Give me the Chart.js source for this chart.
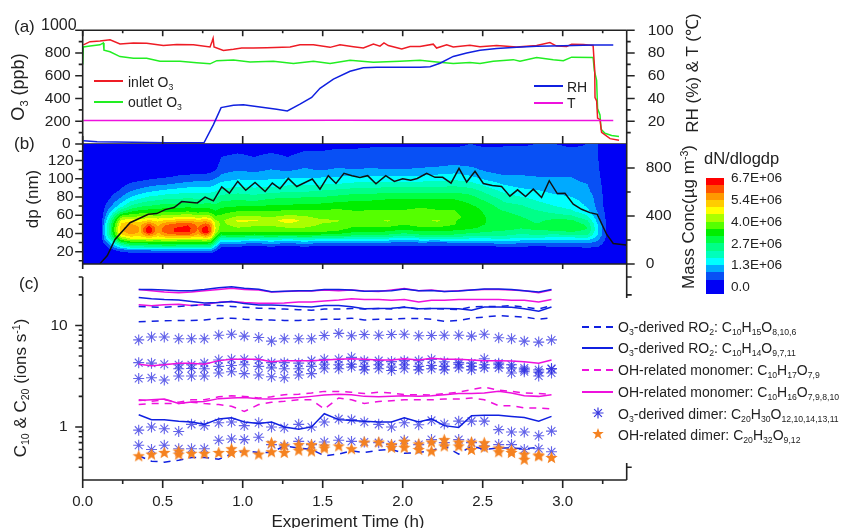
<!DOCTYPE html>
<html>
<head>
<meta charset="utf-8">
<title>Experiment time series</title>
<script src="https://cdn.jsdelivr.net/npm/chart.js@4/dist/chart.umd.min.js"></script>
<style>
  html, body { margin: 0; padding: 0; background: #fff; }
  #fig { position: relative; width: 841px; height: 528px; overflow: hidden; font-family: "Liberation Sans", Arial, sans-serif; color: #222; filter: blur(0.3px); }
  #fig canvas { position: absolute; left: 0; top: 0; }
  .t { position: absolute; white-space: nowrap; line-height: 1; transform: translateY(-50%); }
  .rot { position: absolute; white-space: nowrap; line-height: 1; transform: translate(-50%, -50%) rotate(-90deg); }
  .c { position: absolute; white-space: nowrap; line-height: 1; transform: translate(-50%, -50%); }
  sub { font-size: 0.62em; vertical-align: -0.32em; line-height: 0; }
  sup { font-size: 0.62em; vertical-align: 0.55em; line-height: 0; }
  .ln { position: absolute; height: 0; border-top: 2px solid; }
  .dash { position: absolute; height: 2px; }
  #bar { position: absolute; left: 706px; top: 178px; width: 18px; height: 116px; display: flex; flex-direction: column; }
  #bar div { flex: 1; }
</style>
</head>
<body>
<div id="fig">
  <canvas id="panelA" width="841" height="528"></canvas>
  <canvas id="panelB" width="841" height="528"></canvas>
  <canvas id="panelC" width="841" height="528"></canvas>

  <span class="t" style="left:14px;top:26px;font-size:17px">(a)</span>
  <span class="t" style="left:14px;top:143px;font-size:17px">(b)</span>
  <span class="t" style="left:19px;top:283px;font-size:17px">(c)</span>
  <span class="t" style="left:41px;top:25px;font-size:16px">1000</span>

  <span class="rot" style="left:18px;top:87px;font-size:18px">O<sub>3</sub> (ppb)</span>
  <span class="rot" style="left:32px;top:199px;font-size:17px">dp (nm)</span>
  <span class="rot" style="left:692px;top:73px;font-size:17px">RH (%) &amp; T (℃)</span>
  <span class="rot" style="left:688px;top:217px;font-size:17px">Mass Conc(µg m<sup>-3</sup>)</span>
  <span class="rot" style="left:20px;top:388px;font-size:17px">C<sub>10</sub> &amp; C<sub>20</sub> (ions s<sup>-1</sup>)</span>
  <span class="c" style="left:348px;top:521px;font-size:17px">Experiment Time (h)</span>

  <div class="ln" style="left:94px;top:80px;width:29px;border-color:#ee1c25"></div>
  <span class="t" style="left:128px;top:82px;font-size:14px">inlet O<sub>3</sub></span>
  <div class="ln" style="left:94px;top:101px;width:29px;border-color:#22ee22"></div>
  <span class="t" style="left:128px;top:102px;font-size:14px">outlet O<sub>3</sub></span>
  <div class="ln" style="left:534px;top:85px;width:29px;border-color:#1020e0"></div>
  <span class="t" style="left:567px;top:87px;font-size:14px">RH</span>
  <div class="ln" style="left:534px;top:102px;width:29px;border-color:#ee11dd"></div>
  <span class="t" style="left:567px;top:103px;font-size:14px">T</span>

  <span class="t" style="left:704px;top:158px;font-size:16.5px">dN/dlogdp</span>
  <div id="bar"></div>
  <span class="t" style="left:731px;top:178px;font-size:13.6px">6.7E+06</span>
  <span class="t" style="left:731px;top:200px;font-size:13.6px">5.4E+06</span>
  <span class="t" style="left:731px;top:222px;font-size:13.6px">4.0E+06</span>
  <span class="t" style="left:731px;top:244px;font-size:13.6px">2.7E+06</span>
  <span class="t" style="left:731px;top:265px;font-size:13.6px">1.3E+06</span>
  <span class="t" style="left:731px;top:287px;font-size:13.6px">0.0</span>

  <div class="dash" style="left:582px;top:326px;width:31px;background:repeating-linear-gradient(90deg,#1020e0 0 7px,transparent 7px 12px)"></div>
  <span class="t" style="left:618px;top:327px;font-size:14px">O<sub>3</sub>-derived RO<sub>2</sub>: C<sub>10</sub>H<sub>15</sub>O<sub>8,10,6</sub></span>
  <div class="ln" style="left:582px;top:347px;width:31px;border-color:#1020e0"></div>
  <span class="t" style="left:618px;top:348px;font-size:14px">O<sub>3</sub>-derived RO<sub>2</sub>: C<sub>10</sub>H<sub>14</sub>O<sub>9,7,11</sub></span>
  <div class="dash" style="left:582px;top:369px;width:31px;background:repeating-linear-gradient(90deg,#ee11dd 0 7px,transparent 7px 12px)"></div>
  <span class="t" style="left:618px;top:370px;font-size:14px">OH-related monomer: C<sub>10</sub>H<sub>17</sub>O<sub>7,9</sub></span>
  <div class="ln" style="left:582px;top:391px;width:31px;border-color:#ee11dd"></div>
  <span class="t" style="left:618px;top:392px;font-size:14px">OH-related monomer: C<sub>10</sub>H<sub>16</sub>O<sub>7,9,8,10</sub></span>
  <svg style="position:absolute;left:591px;top:406px" width="14" height="14" viewBox="-7 -7 14 14">
    <path d="M-5.5 0H5.5M0-5.5V5.5M-3.9-3.9L3.9 3.9M-3.9 3.9L3.9-3.9" stroke="#3a3ae0" stroke-width="1.2"/>
  </svg>
  <span class="t" style="left:618px;top:414px;font-size:14px">O<sub>3</sub>-derived dimer: C<sub>20</sub>H<sub>30</sub>O<sub>12,10,14,13,11</sub></span>
  <svg style="position:absolute;left:592px;top:428px" width="12" height="12" viewBox="-7 -7 14 14">
    <polygon points="0,-7 1.7,-2.2 6.7,-2.2 2.7,0.8 4.1,5.7 0,2.8 -4.1,5.7 -2.7,0.8 -6.7,-2.2 -1.7,-2.2" fill="#f58220"/>
  </svg>
  <span class="t" style="left:618px;top:435px;font-size:14px">OH-related dimer: C<sub>20</sub>H<sub>32</sub>O<sub>9,12</sub></span>
</div>

<script>
'use strict';

// ---- panel (a) ----
const inletTime = [0.004,0.046,0.108,0.171,0.233,0.317,0.4,0.504,0.588,0.692,0.796,0.808,0.815,0.821,0.879,0.942,0.994,1.067,1.15,1.296,1.358,1.442,1.546,1.608,1.692,1.754,1.817,1.858,1.883,1.91,1.994,2.046,2.108,2.191,2.212,2.275,2.316,2.42,2.483,2.587,2.712,2.837,2.92,2.962,3.025,3.056,3.129,3.19,3.2,3.202,3.212,3.218,3.233,3.243,3.296,3.352];
const inletO3 = [872,900,905,916,880,889,886,866,875,872,853,900,930,853,822,833,844,844,847,853,872,872,850,872,855,844,880,861,889,866,836,858,858,878,844,872,853,869,855,866,853,866,892,861,858,878,875,866,650,408,380,228,214,103,47,33];
const outletTime = [0,0.004,0.046,0.108,0.129,0.133,0.171,0.233,0.317,0.4,0.483,0.608,0.712,0.796,0.838,0.942,1.046,1.192,1.317,1.442,1.546,1.671,1.817,1.983,2.108,2.212,2.316,2.42,2.483,2.566,2.691,2.733,2.837,2.941,3.004,3.056,3.19,3.198,3.212,3.218,3.233,3.24,3.264,3.306,3.352];
const outletO3 = [700,853,861,872,889,825,811,769,755,755,728,728,714,705,733,739,722,728,708,728,708,736,719,728,736,722,708,717,708,728,742,728,761,742,733,764,761,644,560,311,255,130,94,75,67];
const rhTime = [0.004,0.09,0.317,0.525,0.758,0.817,0.865,0.942,1.004,1.108,1.212,1.279,1.358,1.431,1.483,1.567,1.671,1.754,1.838,2.108,2.171,2.233,2.316,2.4,2.483,2.587,2.712,2.837,3.004,3.191,3.316];
const rhValues = [2.8,1.9,1.5,1.2,1.0,17,32,34,34.5,32.5,30.5,29,35,41,49,57,64,67,67.5,67.5,68,71,77,80,82.5,84,85,86,86.5,87,87];
const tempTime = [0.004,0.8,1.6,2.4,3.316];
const tempValues = [20.6,20.6,20.8,20.6,20.6];

// ---- panel (b) ----
const massTime = [0.108,0.154,0.202,0.296,0.41,0.463,0.515,0.571,0.619,0.717,0.765,0.817,0.869,0.917,0.969,1.019,1.077,1.14,1.185,1.233,1.285,1.338,1.435,1.483,1.535,1.583,1.633,1.683,1.733,1.781,1.833,1.894,1.948,2.0,2.05,2.091,2.15,2.202,2.25,2.302,2.352,2.4,2.452,2.504,2.56,2.618,2.67,2.718,2.768,2.816,2.868,2.916,2.966,3.014,3.066,3.118,3.17,3.216,3.275,3.316,3.396];
const massConc = [3,70,204,344,414,420,453,470,520,509,557,526,643,590,688,615,680,604,674,627,713,646,708,624,736,671,755,736,722,736,669,736,688,710,699,713,755,722,722,674,797,683,772,671,655,646,565,618,562,624,554,694,587,590,498,456,428,414,246,171,159];

const dpBins = [8,18,22,26,30,34,38,42,46,50,54,58,64,70,78,86,94,102,110,120,130,138];
const timeBins = [0.11,0.137,0.241,0.30,0.36,0.414,0.47,0.518,0.59,0.66,0.72,0.77,0.80,0.83,0.865,0.969,1.073,1.177,1.281,1.385,1.489,1.593,1.697,1.801,1.905,2.009,2.113,2.217,2.321,2.425,2.529,2.633,2.737,2.841,2.945,3.049,3.153,3.22,3.27,3.30];
// dN/dlogdp x 1E+06, one row per time bin, one value per dp bin
const dNdlogdp = [
  [0,0,0,0,0,0,0,0,0,0,0,0,0,0,0,0,0,0,0,0,0,0],
  [0,0,.1,.3,.6,1.0,1.2,1.3,1.3,1.2,1.0,.8,.6,.4,.2,.1,0,0,0,0,0,0],
  [0,.2,.7,1.8,2.8,3.9,4.8,5.2,5.2,5.0,4.6,3.9,2.6,1.6,1.0,.55,.3,.15,0,0,0,0],
  [0,.3,1.0,2.3,3.3,4.4,5.2,5.8,5.8,5.4,4.8,4.1,3.1,2.3,1.5,.9,.5,.2,.05,0,0,0],
  [0,.3,1.0,2.3,3.3,4.4,5.1,5.3,5.3,5.2,4.7,4.1,3.3,2.6,1.8,1.1,.6,.25,.05,0,0,0],
  [0,.3,1.0,2.4,3.4,4.6,5.7,6.7,6.7,5.9,5.0,4.3,3.4,2.7,2.0,1.3,.7,.3,.1,0,0,0],
  [0,.35,1.1,2.4,3.4,4.4,5.1,5.4,5.4,5.2,4.8,4.2,3.4,2.8,2.1,1.4,.8,.35,.1,0,0,0],
  [0,.4,1.2,2.6,3.5,4.6,5.5,6.1,6.1,5.7,5.0,4.3,3.5,2.9,2.2,1.5,.85,.4,.15,0,0,0],
  [0,.4,1.2,2.5,3.4,4.5,5.7,6.3,6.3,6.0,5.2,4.4,3.5,2.9,2.2,1.6,.95,.5,.2,0,0,0],
  [0,.4,1.2,2.5,3.4,4.5,5.8,6.4,6.4,6.2,5.4,4.5,3.6,3.0,2.3,1.7,1.05,.55,.2,.05,0,0],
  [0,.4,1.2,2.5,3.4,4.4,5.2,5.7,5.8,5.6,5.1,4.3,3.4,2.9,2.2,1.7,1.1,.6,.25,.05,0,0],
  [0,.4,1.2,2.5,3.4,4.6,5.8,6.8,6.6,6.0,5.3,4.4,3.5,2.9,2.3,1.7,1.1,.6,.25,.05,0,0],
  [0,.4,1.1,2.4,3.3,4.3,5.3,5.8,5.9,5.6,5.0,4.2,3.4,2.9,2.3,1.7,1.15,.65,.3,.1,0,0],
  [0,.2,.6,1.4,2.3,3.1,3.9,4.3,4.5,4.4,4.1,3.7,3.2,2.8,2.3,1.8,1.3,.8,.4,.2,.05,0],
  [0,0,.15,.5,1.1,2.0,3.0,3.6,3.8,3.9,3.9,3.7,3.4,3.0,2.5,2.0,1.5,1.0,.7,.5,.35,.2],
  [0,0,.15,.5,1.1,2.0,3.1,3.7,4.0,4.25,4.55,4.1,3.6,3.1,2.6,2.1,1.6,1.2,.85,.6,.4,.25],
  [0,0,.1,.4,1.0,1.9,3.0,3.6,3.9,4.15,4.55,4.1,3.6,3.1,2.5,2.0,1.6,1.15,.75,.5,.35,.2],
  [0,0,.15,.5,1.1,2.0,3.1,3.6,3.9,4.1,4.2,4.0,3.6,3.2,2.7,2.1,1.6,1.2,.9,.65,.4,.25],
  [0,0,.1,.4,1.0,1.9,3.0,3.7,4.0,4.3,4.85,4.2,3.7,3.2,2.7,2.2,1.7,1.25,.8,.5,.35,.25],
  [0,0,.15,.5,1.1,2.0,3.1,3.7,4.0,4.2,4.3,4.1,3.7,3.3,2.8,2.2,1.7,1.3,.95,.65,.45,.25],
  [0,0,.1,.4,1.0,1.9,3.0,3.6,3.9,4.0,4.1,3.9,3.7,3.3,2.8,2.3,1.75,1.3,.85,.55,.45,.3],
  [0,0,.1,.45,1.0,1.9,2.9,3.5,3.8,3.95,4.05,3.9,3.7,3.4,2.9,2.4,1.8,1.35,.95,.65,.5,.35],
  [0,0,.1,.4,.9,1.8,2.7,3.2,3.5,3.7,3.7,3.7,3.6,3.4,3.0,2.5,1.9,1.4,.9,.6,.5,.35],
  [0,0,.1,.45,1.0,1.8,2.7,3.2,3.5,3.7,3.8,3.7,3.6,3.5,3.0,2.5,1.9,1.4,.95,.65,.5,.4],
  [0,0,.05,.4,.9,1.7,2.6,3.1,3.5,3.8,4.1,3.8,3.6,3.5,3.1,2.6,2.0,1.4,.9,.6,.5,.4],
  [0,0,.05,.4,.8,1.6,2.4,2.9,3.3,3.6,3.7,3.7,3.6,3.5,3.1,2.6,2.0,1.4,.9,.65,.5,.4],
  [0,0,.1,.45,.9,1.7,2.6,3.1,3.5,3.8,3.9,3.8,3.7,3.5,3.1,2.6,2.0,1.4,.95,.65,.5,.4],
  [0,0,.1,.4,.85,1.7,2.6,3.1,3.5,3.8,4.1,3.8,3.6,3.5,3.1,2.6,2.0,1.5,1.0,.65,.5,.4],
  [0,0,.1,.4,.9,1.8,2.6,3.0,3.4,3.6,3.6,3.7,3.6,3.5,3.1,2.6,2.1,1.55,1.1,.7,.5,.4],
  [0,0,.05,.4,.95,1.7,2.4,2.9,3.2,3.3,3.4,3.4,3.4,3.2,2.9,2.5,1.95,1.4,1.0,.65,.5,.45],
  [0,0,.1,.45,1.0,1.7,2.3,2.7,3.0,3.1,3.1,3.1,3.0,2.9,2.5,2.1,1.6,1.1,.8,.6,.5,.4],
  [0,0,.1,.5,1.1,1.8,2.3,2.6,2.9,3.1,3.1,2.9,2.7,2.4,2.1,1.7,1.3,.95,.7,.55,.5,.42],
  [0,0,.1,.5,1.0,1.6,2.1,2.5,2.7,2.8,2.8,2.7,2.5,2.3,1.9,1.5,1.15,.95,.7,.55,.5,.42],
  [0,0,.1,.45,.9,1.6,2.2,2.6,2.8,2.7,2.6,2.5,2.3,2.0,1.7,1.4,1.1,.9,.7,.55,.5,.45],
  [0,0,.1,.5,.9,1.5,2.1,2.6,2.9,2.9,2.8,2.5,2.1,1.8,1.5,1.25,1.0,.9,.75,.6,.55,.45],
  [0,.05,.15,.5,.9,1.5,2.2,2.7,2.9,3.0,2.8,2.4,1.9,1.6,1.4,1.2,1.0,.9,.7,.55,.5,.4],
  [0,.1,.25,.6,1.0,1.6,2.2,2.6,2.7,2.6,2.3,1.9,1.5,1.3,1.2,1.0,.9,.75,.6,.5,.48,.45],
  [0,.1,.2,.5,.75,1.0,1.3,1.4,1.4,1.3,1.15,1.0,.85,.75,.7,.65,.6,.55,.5,.47,.46,.45],
  [0,.05,.1,.2,.3,.4,.45,.48,.48,.45,.42,.4,.35,.3,.3,.28,.25,.2,.2,.15,.15,.1],
  [0,0,0,0,0,0,0,0,0,0,0,0,0,0,0,0,0,0,0,0,0,0]
];
const bandStep = 6.7 / 15;
const bandColors = ['#0000f5','#0850f5','#00aaff','#00ffff','#00ffbb','#00ff88','#00ff44','#00ee00','#55ff00','#aaff00','#ffff00','#ffcc00','#ff9900','#ff5500','#ff0000'];

// ---- panel (c) ----
const timeC = [0.35,0.43,0.51,0.60,0.68,0.76,0.85,0.93,1.01,1.10,1.18,1.26,1.35,1.43,1.51,1.60,1.68,1.76,1.85,1.93,2.01,2.10,2.18,2.26,2.35,2.43,2.51,2.60,2.68,2.76,2.85,2.93];

const roDashA = [15.4,15.2,15.1,15.4,15.7,15.9,15.7,15.4,15.1,14.8,14.7,14.5,14.3,14.1,14.5,14.5,14.7,14.5,14.7,14.5,15.2,14.5,14.7,14.5,14.3,15.2,15.4,15.4,15.7,15.2,14.5,15.7];
const roDashB = [10.9,11,11.1,11.2,11.2,11.3,11.7,11.8,11.5,11.4,11.3,11.2,11.2,11.3,11.5,11.5,11.8,11.3,11.5,11.5,11.7,11.7,11.5,11,11.2,11.8,12.1,12.5,12.3,12.1,11.5,11.9];
const roDashC = [.52,.46,.45,.47,.5,.5,.48,.54,.58,.56,.56,.65,.62,.6,.52,.54,.58,.56,.59,.6,.55,.56,.58,.65,.54,.65,.6,.62,.62,.61,.63,null];
const roSolidA = [22.6,22.6,22.3,22,22,22.6,23.5,24.1,23.3,22.7,21.5,21.7,21.9,22,22.6,22.6,22.3,21.7,21.8,22,22.8,22,22.1,21.6,21.8,22.3,22.9,22.9,22.6,22,21.3,22.6];
const roSolidB = [18.8,18.3,18,17.8,17.2,16.6,16.8,17.2,16.4,15.9,15.9,15.7,15.4,15.2,15.7,15.7,15.3,14.6,14.7,14.8,15.1,14.6,14.7,14.7,14.6,14.1,15.2,15.2,15.1,14.6,13.8,15.2];
const roSolidC = [1.32,1.18,1.18,1.14,1.12,1.06,1.2,1.23,1.12,1.08,1.12,1.0,.95,1.0,1.35,1.18,1.16,1.14,1.12,1.12,1.23,1.12,1.2,1.03,.99,1.29,1.3,1.3,1.27,1.24,1.14,1.27];
const monoSolidA = [22.6,22,21.3,21,21.3,22,22.6,23.2,22.6,22.3,21.3,21.6,21.8,21.8,22.3,22,22.3,21.8,21.6,22.3,23.1,22,22.3,21.6,22,22.3,22.6,22.6,22.3,22,21,22.3];
const monoSolidB = [16,15.6,16,16.2,15.7,16.1,16.9,17.2,16.8,16.5,16.5,16.6,17,17,17.4,17.8,18.3,18,18,17.7,18,17,17.7,17.7,18,18,18,18,17.7,17.7,17,18];
const monoSolidC = [4.14,4,4.1,4.25,4.25,4.14,4.5,4.63,4.63,4.63,4.38,4.5,4.5,4.5,4.57,4.63,4.7,4.63,4.57,4.57,4.7,4.57,4.74,4.63,4.63,4.57,4.5,4.5,4.45,4.38,4.25,4.57];
const monoSolidD = [1.82,1.85,1.88,1.7,1.76,1.78,1.9,1.93,1.95,1.9,1.88,1.92,1.95,2.0,2.06,2.1,2.08,2.0,1.98,2.0,2.03,2.0,2.03,2.08,2.13,2.13,2.16,2.24,2.16,2.03,2.0,2.08];
const monoDashA = [1.85,1.79,1.85,1.75,1.85,1.85,1.98,2.03,2.0,1.93,1.98,2.08,2.1,2.16,2.24,2.24,2.2,2.13,2.2,2.16,2.08,2.08,2.06,2.13,2.2,2.33,2.46,2.3,2.24,2.16,2.13,2.1];
const monoDashB = [1.66,1.7,1.7,1.7,1.75,1.7,1.66,1.6,1.42,1.66,1.75,1.79,1.85,1.85,1.5,1.93,1.85,1.7,1.78,1.81,1.85,1.85,1.85,1.88,1.88,1.93,1.85,1.62,1.62,1.54,1.54,1.5];
const dimerBlueA = [7.2,7.7,7.7,7.4,7.4,7.4,8,8.2,7.85,7.6,7.0,7.4,7.4,7.4,7.95,8.35,7.9,8.14,8,8.14,8.2,7.9,7.95,8,8,7.85,8.2,7.55,7.4,7,6.85,7.2];
const dimerBlueB = [4.3,4.25,4.14,4.1,4.1,4.25,4.57,4.63,4.63,4.57,4.3,4.3,4.25,4.5,4.63,4.63,4.85,4.5,4.5,4.4,4.5,4.5,4.63,4.38,4.3,4.25,4.7,4.25,4.1,3.8,3.65,3.73];
const dimerBlueC = [3,3.05,2.9,3.17,3.17,3.17,3.4,3.5,3.35,3.25,3.12,3.05,3.25,3.35,3.74,3.74,3.9,3.65,3.74,3.6,3.74,3.65,3.74,3.65,3.82,3.65,3.82,3.82,3.4,3.5,3.17,3.4];
const dimerBlueD = [null,null,null,3.74,3.76,3.74,3.95,4.03,4.1,3.95,3.82,3.74,3.74,3.95,4.14,4.1,4.14,3.95,4.1,3.9,4.1,3.95,4.03,3.95,4.14,3.95,4.1,4.1,3.82,3.65,3.47,3.76];
const dimerBlueE = [.93,1,.96,.9,1.06,1.03,1.1,1.12,1.03,1.1,1,.98,1.06,1.0,1.12,1.2,1.18,1.12,1.06,1,1.1,1.05,1.16,1.07,1.14,1.14,1.14,.94,.89,.89,.82,.91];
const dimerBlueF = [.66,.6,.66,.61,.61,.61,.74,.76,.75,.79,.67,.65,.72,.67,.71,.74,.72,.71,.7,.67,.74,.67,.75,.7,.75,.7,.65,.67,.67,.6,.61,.57];
const dimerOrangeA = [.52,.54,.56,.58,.55,.55,.56,.61,.57,.54,.7,.66,.67,.67,.65,.65,.61,.71,.71,.67,.72,.68,.71,.75,.71,.71,.7,.62,.59,.54,.53,.5];
const dimerOrangeB = [null,null,null,.54,null,null,null,.56,null,null,.57,.56,.59,.58,.62,null,null,null,null,.63,.63,.6,.58,.65,.65,.6,.63,.57,.56,.48,.52,null];

// ---- ticks ----
const xLabelled = [0,0.5,1,1.5,2,2.5,3];
const xMinor = [0.25,0.75,1.25,1.75,2.25,2.75,3.25];
const o3Ticks = [0,200,400,600,800,1000];
const o3Minor = [100,300,500,700,900];
const rhTicks = [20,40,60,80,100];
const rhMinor = [10,30,50,70,90];
const dpTicks = [20,40,60,80,100,120];
const dpMinor = [10,30,50,70,90,110,130];
const massTicks = [0,400,800];
const massMinor = [200,600];
const cTicks = [1,10];
const cMinor = [0.4,0.5,0.6,0.7,0.8,0.9,2,3,4,5,6,7,8,9,20,30];

const FONT = '"Liberation Sans", Arial, sans-serif';
const INK = '#222';
const RED = '#ee1c25', GREEN = '#22ee22', BLUE = '#1020e0', PINK = '#ee11dd';

function series(xs, ys) {
  return xs.map((x, i) => ({ x, y: ys[i] }));
}

function lineSet(xs, ys, color, dash) {
  return { data: series(xs, ys), borderColor: color, borderWidth: 1.5, pointRadius: 0, showLine: true, borderDash: dash || [], spanGaps: false };
}

// spines and tick marks, major and minor lengths differ so they are drawn here
const axisMarks = {
  id: 'axisMarks',
  afterDraw(chart, args, opts) {
    const { ctx, chartArea: a } = chart;
    ctx.save();
    ctx.strokeStyle = INK;
    ctx.lineWidth = 1.6;
    opts.axes.forEach(ax => {
      const scale = chart.scales[ax.scale];
      const horizontal = ax.side === 'top' || ax.side === 'bottom';
      const edge = { left: a.left, right: a.right, top: a.top, bottom: a.bottom }[ax.side];
      const sign = (ax.side === 'left' || ax.side === 'top') ? -1 : 1;
      const out = ax.inward ? -sign : sign;
      ctx.beginPath();
      (ax.spans || [horizontal ? [a.left, a.right] : [a.top, a.bottom]]).forEach(s => {
        if (horizontal) { ctx.moveTo(s[0], edge); ctx.lineTo(s[1], edge); }
        else { ctx.moveTo(edge, s[0]); ctx.lineTo(edge, s[1]); }
      });
      const mark = (v, len) => {
        const p = scale.getPixelForValue(v);
        if (horizontal) { ctx.moveTo(p, edge); ctx.lineTo(p, edge + out * len); }
        else { ctx.moveTo(edge, p); ctx.lineTo(edge + out * len, p); }
      };
      (ax.major || []).forEach(v => mark(v, ax.majorLen));
      (ax.minor || []).forEach(v => mark(v, ax.minorLen));
      ctx.stroke();
    });
    ctx.restore();
  }
};

function bandFor(v) {
  return Math.min(bandColors.length - 1, Math.floor(v / bandStep));
}

function locate(bins, v) {
  if (v <= bins[0]) return [0, 0, 0];
  const last = bins.length - 1;
  if (v >= bins[last]) return [last, last, 0];
  let i = 0;
  while (bins[i + 1] < v) i++;
  return [i, i + 1, (v - bins[i]) / (bins[i + 1] - bins[i])];
}

function hexToRgb(h) {
  return [parseInt(h.slice(1, 3), 16), parseInt(h.slice(3, 5), 16), parseInt(h.slice(5, 7), 16)];
}

// filled contours of the dN/dlogdp table, placed through the chart's scales
const contourMap = {
  id: 'contourMap',
  beforeDatasetsDraw(chart) {
    const { ctx, chartArea: a, scales } = chart;
    const x0 = Math.floor(a.left), y0 = Math.floor(a.top);
    const w = Math.ceil(a.right) - x0, h = Math.ceil(a.bottom) - y0;
    const off = document.createElement('canvas');
    off.width = w;
    off.height = h;
    const octx = off.getContext('2d');
    const img = octx.createImageData(w, h);
    const rgb = bandColors.map(hexToRgb);
    const cols = [];
    for (let px = 0; px < w; px++) cols.push(locate(timeBins, scales.x.getValueForPixel(x0 + px + 0.5)));
    for (let py = 0; py < h; py++) {
      const [r0, r1, fy] = locate(dpBins, scales.yDp.getValueForPixel(y0 + py + 0.5));
      for (let px = 0; px < w; px++) {
        const [c0, c1, fx] = cols[px];
        const top = dNdlogdp[c0][r0] * (1 - fx) + dNdlogdp[c1][r0] * fx;
        const bot = dNdlogdp[c0][r1] * (1 - fx) + dNdlogdp[c1][r1] * fx;
        const c = rgb[bandFor(top * (1 - fy) + bot * fy)];
        const k = (py * w + px) * 4;
        img.data[k] = c[0];
        img.data[k + 1] = c[1];
        img.data[k + 2] = c[2];
        img.data[k + 3] = 255;
      }
    }
    octx.putImageData(img, 0, 0);
    ctx.drawImage(off, x0, y0);
  }
};

function orangeStar() {
  const c = document.createElement('canvas');
  c.width = 13;
  c.height = 13;
  const g = c.getContext('2d');
  g.fillStyle = '#f58220';
  g.beginPath();
  for (let i = 0; i < 10; i++) {
    const r = i % 2 ? 2.8 : 6.5;
    const ang = -Math.PI / 2 + i * Math.PI / 5;
    g.lineTo(6.5 + r * Math.cos(ang), 7 + r * Math.sin(ang));
  }
  g.closePath();
  g.fill();
  return c;
}

function dimerSet(ys, style, radius, color) {
  return { data: series(timeC, ys), showLine: false, pointStyle: style, pointRadius: radius, borderColor: color, backgroundColor: color, borderWidth: 1.1 };
}

// value axis whose box width is fixed so the plot area lands where it should
function valueAxis(position, min, max, ticks, pad, fmt, type) {
  return {
    type: type || 'linear', position, min, max,
    grid: { display: false, drawTicks: false }, border: { display: false },
    afterBuildTicks: s => { s.ticks = ticks.map(value => ({ value })); },
    afterFit: s => { s.width = 60; },
    ticks: { autoSkip: false, maxRotation: 0, padding: pad, color: INK, font: { family: FONT, size: 15.5 }, callback: fmt || (v => String(v)) }
  };
}

function timeAxis(showLabels) {
  return {
    type: 'linear', position: 'bottom', min: 0, max: 3.4,
    grid: { display: false, drawTicks: false }, border: { display: false },
    afterBuildTicks: s => { s.ticks = xLabelled.map(value => ({ value })); },
    afterFit: s => { s.height = 30; },
    ticks: { display: showLabels, autoSkip: false, maxRotation: 0, padding: 13, color: INK, font: { family: FONT, size: 15 }, callback: v => v.toFixed(1) }
  };
}

function panel(id, top, bottom, rightBox, scales, datasets, axes, extra) {
  return new Chart(document.getElementById(id), {
    type: 'scatter',
    data: { datasets },
    options: {
      responsive: false,
      animation: false,
      events: [],
      layout: { padding: { left: 82.7 - 60, right: 841 - 626.7 - rightBox, top, bottom: 528 - bottom - 30 } },
      scales,
      plugins: { legend: { display: false }, tooltip: { enabled: false }, axisMarks: { axes } }
    },
    plugins: [axisMarks].concat(extra || [])
  });
}

document.getElementById('bar').innerHTML = bandColors.slice().reverse()
  .map((c, i) => `<div style="background:${c};${i === bandColors.length - 1 ? 'flex:2' : ''}"></div>`).join('');

const hideTop = v => (v === 1000 ? '' : String(v));

panel('panelA', 24, 144, 60,
  {
    x: timeAxis(false),
    yO3: valueAxis('left', 0, 1000, o3Ticks, 12, hideTop),
    yRh: valueAxis('right', 0, 100, rhTicks, 21)
  },
  [
    Object.assign(lineSet(rhTime, rhValues, BLUE), { yAxisID: 'yRh' }),
    Object.assign(lineSet(tempTime, tempValues, PINK), { yAxisID: 'yRh' }),
    Object.assign(lineSet(inletTime, inletO3, RED), { yAxisID: 'yO3' }),
    Object.assign(lineSet(outletTime, outletO3, GREEN), { yAxisID: 'yO3' })
  ],
  [
    { scale: 'yO3', side: 'left', major: o3Ticks, minor: o3Minor, majorLen: 7.5, minorLen: 4 },
    { scale: 'yRh', side: 'right', major: rhTicks, minor: rhMinor, majorLen: 8, minorLen: 4 },
    { scale: 'x', side: 'top', inward: true, major: xLabelled, minor: xMinor, majorLen: 6, minorLen: 3 },
    { scale: 'x', side: 'bottom', inward: true, major: xLabelled, majorLen: 8 }
  ]);

panel('panelB', 144, 264, 60,
  {
    x: timeAxis(false),
    yDp: valueAxis('left', 6.5, 138, dpTicks, 9),
    yMass: valueAxis('right', 0, 1000, massTicks, 19)
  },
  [
    Object.assign(lineSet(massTime, massConc, '#111'), { yAxisID: 'yMass' })
  ],
  [
    { scale: 'yDp', side: 'left', major: dpTicks, minor: dpMinor, majorLen: 7.5, minorLen: 4 },
    { scale: 'yMass', side: 'right', major: massTicks, minor: massMinor, majorLen: 8, minorLen: 4, spans: [[144, 298]] },
    { scale: 'x', side: 'bottom', major: xLabelled, majorLen: 5 }
  ],
  [contourMap]);

const star = orangeStar();
const ASTERISK = 'rgba(45,45,225,0.75)';

panel('panelC', 277, 480, 0,
  {
    x: timeAxis(true),
    y: valueAxis('left', 0.3, 30, cTicks, 15, null, 'logarithmic')
  },
  [
    dimerSet(dimerOrangeA, star, 6.5, '#f58220'),
    dimerSet(dimerOrangeB, star, 6.5, '#f58220'),
    lineSet(timeC, roDashA, BLUE, [7, 6]),
    lineSet(timeC, roDashB, BLUE, [7, 6]),
    lineSet(timeC, roDashC, BLUE, [7, 6]),
    lineSet(timeC, roSolidA, BLUE),
    lineSet(timeC, roSolidB, BLUE),
    lineSet(timeC, roSolidC, BLUE),
    lineSet(timeC, monoSolidA, PINK),
    lineSet(timeC, monoSolidB, PINK),
    lineSet(timeC, monoSolidC, PINK),
    lineSet(timeC, monoSolidD, PINK),
    lineSet(timeC, monoDashA, PINK, [7, 6]),
    lineSet(timeC, monoDashB, PINK, [7, 6]),
    dimerSet(dimerBlueA, 'star', 5.5, ASTERISK),
    dimerSet(dimerBlueB, 'star', 5.5, ASTERISK),
    dimerSet(dimerBlueC, 'star', 5.5, ASTERISK),
    dimerSet(dimerBlueD, 'star', 5.5, ASTERISK),
    dimerSet(dimerBlueE, 'star', 5.5, ASTERISK),
    dimerSet(dimerBlueF, 'star', 5.5, ASTERISK)
  ],
  [
    { scale: 'y', side: 'left', major: cTicks, minor: cMinor, majorLen: 7.5, minorLen: 4 },
    { scale: 'y', side: 'right', major: [], minor: [20, 30, 0.4], minorLen: 5, spans: [[463, 480]] },
    { scale: 'x', side: 'bottom', major: xLabelled, minor: xMinor, majorLen: 8, minorLen: 4 }
  ]);
</script>
</body>
</html>
